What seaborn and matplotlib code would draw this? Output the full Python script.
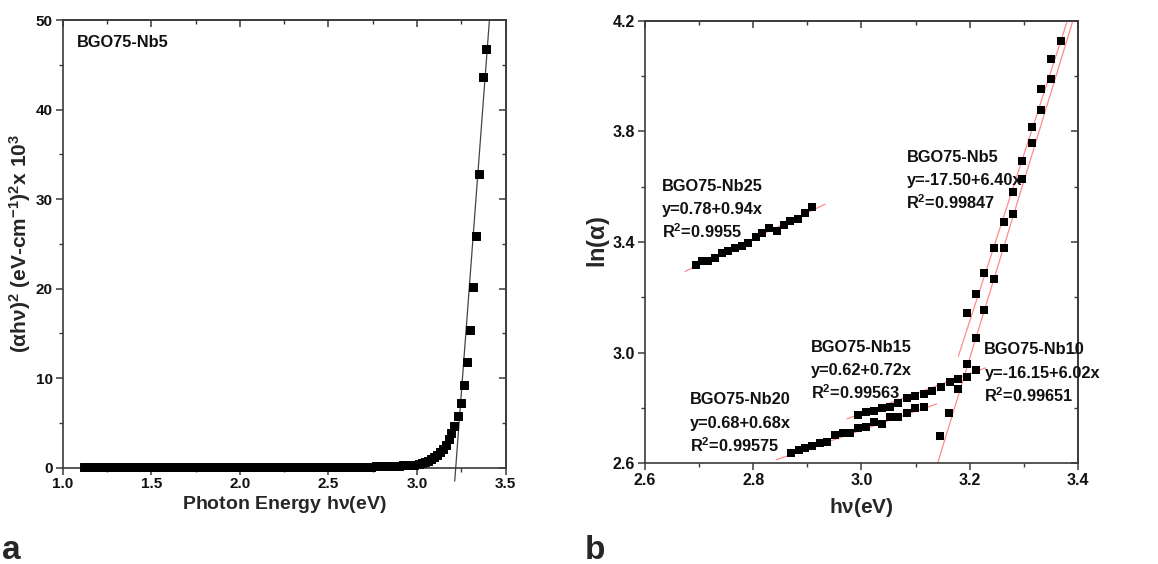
import numpy as np
import pandas as pd
import matplotlib
matplotlib.use("Agg")
import matplotlib.pyplot as plt
from matplotlib.ticker import FixedLocator
import seaborn as sns

# ---------------- panel a: Tauc plot of BGO75-Nb5 ----------------
tauc_energy = [
    1.12, 1.15, 1.18, 1.21, 1.24, 1.27, 1.30, 1.33, 1.36, 1.39, 1.42, 1.45,
    1.48, 1.51, 1.54, 1.57, 1.60, 1.63, 1.66, 1.69, 1.72, 1.75, 1.78, 1.81,
    1.84, 1.87, 1.90, 1.93, 1.96, 1.99, 2.02, 2.05, 2.08, 2.11, 2.14, 2.17,
    2.20, 2.23, 2.26, 2.29, 2.32, 2.35, 2.38, 2.41, 2.44, 2.47, 2.50, 2.53,
    2.56, 2.59, 2.62, 2.65, 2.68, 2.71, 2.74, 2.77, 2.80, 2.83, 2.86, 2.88,
    2.90, 2.92, 2.94, 2.96, 2.98, 3.009, 3.026, 3.043, 3.060, 3.077, 3.094,
    3.111, 3.127, 3.144, 3.161, 3.178, 3.193, 3.210, 3.229, 3.246, 3.263,
    3.280, 3.299, 3.314, 3.333, 3.351, 3.370, 3.389,
]
tauc_value = [
    0.03, 0.03, 0.03, 0.03, 0.03, 0.03, 0.03, 0.03, 0.03, 0.03, 0.03, 0.03,
    0.03, 0.03, 0.03, 0.03, 0.03, 0.03, 0.03, 0.03, 0.03, 0.03, 0.03, 0.03,
    0.03, 0.03, 0.03, 0.03, 0.03, 0.03, 0.03, 0.03, 0.03, 0.04, 0.04, 0.04,
    0.04, 0.04, 0.05, 0.05, 0.05, 0.05, 0.05, 0.06, 0.06, 0.06, 0.06, 0.07,
    0.07, 0.08, 0.08, 0.09, 0.10, 0.11, 0.12, 0.14, 0.15, 0.17, 0.19, 0.21,
    0.22, 0.25, 0.28, 0.31, 0.35, 0.42, 0.50, 0.60, 0.74, 0.93, 1.19,
    1.45, 1.75, 2.12, 2.57, 3.16, 3.83, 4.65, 5.77, 7.26, 9.20,
    11.84, 15.41, 20.22, 25.91, 32.84, 43.67, 46.76,
]
# linear extrapolation of the absorption edge: y = slope * (E - Eg)
tauc_gap = 3.218
tauc_slope = 263.0
tauc_fit_range = [-1.5, 50.0]

# ---------------- panel b: ln(alpha) vs photon energy ----------------
nb25_x = [2.694, 2.705, 2.717, 2.729, 2.742, 2.754, 2.766, 2.779, 2.791,
          2.805, 2.817, 2.829, 2.843, 2.856, 2.868, 2.882, 2.896, 2.909]
nb25_y = [3.317, 3.331, 3.331, 3.343, 3.361, 3.369, 3.377, 3.387, 3.395,
          3.419, 3.431, 3.449, 3.440, 3.461, 3.477, 3.483, 3.504, 3.525]

nb20_x = [2.869, 2.884, 2.896, 2.909, 2.924, 2.937, 2.951, 2.965, 2.979,
          2.994, 3.009, 3.023, 3.038, 3.053, 3.068, 3.084, 3.099, 3.115]
nb20_y = [2.636, 2.648, 2.654, 2.663, 2.672, 2.678, 2.702, 2.708, 2.708,
          2.727, 2.733, 2.751, 2.742, 2.766, 2.769, 2.783, 2.799, 2.802]

nb15_x = [2.994, 3.009, 3.023, 3.038, 3.053, 3.068, 3.084, 3.099, 3.115,
          3.130, 3.147, 3.163, 3.178, 3.195, 3.212]
nb15_y = [2.775, 2.787, 2.790, 2.799, 2.805, 2.819, 2.837, 2.843, 2.851,
          2.863, 2.877, 2.893, 2.904, 2.913, 2.937]

nb10_x = [3.195, 3.212, 3.227, 3.245, 3.263, 3.280, 3.296, 3.315, 3.332, 3.351]
nb10_y = [3.142, 3.212, 3.289, 3.377, 3.471, 3.580, 3.693, 3.814, 3.954, 4.060]

nb5_x = [3.145, 3.162, 3.178, 3.195, 3.212, 3.227, 3.245, 3.263, 3.280,
         3.296, 3.315, 3.332, 3.351, 3.369]
nb5_y = [2.700, 2.781, 2.867, 2.959, 3.054, 3.154, 3.265, 3.380, 3.500,
         3.627, 3.757, 3.877, 3.989, 4.128]

# fitted lines y = a + b x, with the energy span over which each is drawn
fit_names = ["Nb25", "Nb20", "Nb15", "Nb10", "Nb5"]
fit_intercept = [0.78, 0.68, 0.62, -16.15, -17.50]
fit_slope = [0.94, 0.68, 0.72, 6.02, 6.40]
fit_x_start = [2.674, 2.843, 2.973, 3.179, 3.138]
fit_x_end = [2.933, 3.139, 3.229, 3.396, 3.418]

# annotation blocks: (x, y of first baseline, lines)
label_x = [2.631, 2.683, 2.906, 3.227, 3.083]
label_y = [3.586, 2.813, 3.004, 2.994, 3.691]
label_lines = [
    ["BGO75-Nb25", "y=0.78+0.94x", "R$^{2}$=0.9955"],
    ["BGO75-Nb20", "y=0.68+0.68x", "R$^{2}$=0.99575"],
    ["BGO75-Nb15", "y=0.62+0.72x", "R$^{2}$=0.99563"],
    ["BGO75-Nb10", "y=-16.15+6.02x", "R$^{2}$=0.99651"],
    ["BGO75-Nb5", "y=-17.50+6.40x", "R$^{2}$=0.99847"],
]

# tick positions
a_xticks = [1.0, 1.5, 2.0, 2.5, 3.0, 3.5]
a_yticks = [0, 10, 20, 30, 40, 50]
b_xticks = [2.6, 2.8, 3.0, 3.2, 3.4]
b_yticks = [2.6, 3.0, 3.4, 3.8, 4.2]

# ---------------- styling ----------------
sns.set_style("ticks")
plt.rcParams.update({
    "font.family": ["Liberation Sans", "DejaVu Sans"],
    "font.weight": "bold",
    "axes.labelweight": "bold",
    "mathtext.fontset": "custom",
    "mathtext.rm": "Liberation Sans:bold",
    "mathtext.it": "Liberation Sans:bold",
    "mathtext.bf": "Liberation Sans:bold",
    "mathtext.sf": "Liberation Sans:bold",
    "axes.edgecolor": "#3a3a3a",
    "axes.linewidth": 1.2,
    "xtick.color": "#3a3a3a",
    "ytick.color": "#3a3a3a",
    "xtick.labelcolor": "#111111",
    "ytick.labelcolor": "#111111",
})

fig = plt.figure(figsize=(11.58, 5.64), dpi=100)
ax_a = fig.add_axes([0.0541, 0.1707, 0.3826, 0.7938])
ax_b = fig.add_axes([0.5570, 0.1785, 0.3739, 0.7848])


def minor_between(ticks):
    return [(t0 + t1) / 2 for t0, t1 in zip(ticks[:-1], ticks[1:])]


def style_ticks(ax, xt, yt, fs):
    ax.set_xticks(xt)
    ax.set_yticks(yt)
    ax.xaxis.set_minor_locator(FixedLocator(minor_between(xt)))
    ax.yaxis.set_minor_locator(FixedLocator(minor_between(yt)))
    ax.tick_params(which="major", direction="out", length=5, width=1.1,
                   labelsize=fs, pad=2)
    ax.tick_params(which="minor", direction="out", length=3, width=1.0)
    # mirrored inward ticks on top and right
    top = ax.secondary_xaxis("top")
    top.set_xticks(xt)
    top.xaxis.set_minor_locator(FixedLocator(minor_between(xt)))
    top.tick_params(which="major", direction="in", length=5, width=1.1,
                    labeltop=False)
    top.tick_params(which="minor", direction="in", length=3, width=1.0)
    right = ax.secondary_yaxis("right")
    right.set_yticks(yt)
    right.yaxis.set_minor_locator(FixedLocator(minor_between(yt)))
    right.tick_params(which="major", direction="in", length=5, width=1.1,
                      labelright=False)
    right.tick_params(which="minor", direction="in", length=3, width=1.0)
    for s in ax.spines.values():
        s.set_visible(True)


# ---- panel a ----
df_a = pd.DataFrame({"E": tauc_energy, "T": tauc_value})
sns.scatterplot(data=df_a, x="E", y="T", ax=ax_a, marker="s", s=26,
                color="black", edgecolor="black", linewidth=0.7,
                clip_on=False, zorder=3)
fit_y = np.array(tauc_fit_range)
fit_x = tauc_gap + fit_y / tauc_slope
sns.lineplot(x=fit_x, y=fit_y, ax=ax_a, color="#444444", linewidth=0.9,
             clip_on=False, zorder=2)
ax_a.set_xlim(1.0, 3.5)
ax_a.set_ylim(0, 50)
style_ticks(ax_a, a_xticks, a_yticks, 11)
ax_a.set_xticklabels([f"{t:.1f}" for t in a_xticks], fontweight="bold")
ax_a.set_yticklabels([f"{t:d}" for t in a_yticks], fontweight="bold")
ax_a.set_xlabel(r"Photon Energy h$\nu$(eV)", fontsize=14, labelpad=2)
ax_a.set_ylabel(r"($\alpha$h$\nu$)$^{2}$ (eV-cm$^{\mathsf{-1}}$)$^{2}$x 10$^{3}$",
                fontsize=15)
ax_a.yaxis.set_label_coords(-0.068, 0.5)
ax_a.text(1.083, 47.0, "BGO75-Nb5", fontsize=11.8, fontweight="bold",
          va="baseline", ha="left", color="#111111")

# ---- panel b ----
series_b = [(nb25_x, nb25_y), (nb20_x, nb20_y), (nb15_x, nb15_y),
            (nb10_x, nb10_y), (nb5_x, nb5_y)]
frames = []
for name, (xs, ys) in zip(fit_names, series_b):
    frames.append(pd.DataFrame({"E": xs, "lna": ys, "sample": name}))
df_b = pd.concat(frames, ignore_index=True)

for a, b, x0, x1 in zip(fit_intercept, fit_slope, fit_x_start, fit_x_end):
    xs = np.array([x0, x1])
    sns.lineplot(x=xs, y=a + b * xs, ax=ax_b, color="#ff8a8a",
                 linewidth=0.9, zorder=2)
sns.scatterplot(data=df_b, x="E", y="lna", ax=ax_b, marker="s", s=30,
                color="black", linewidth=0, zorder=3, legend=False)
ax_b.set_xlim(2.6, 3.4)
ax_b.set_ylim(2.6, 4.2)
style_ticks(ax_b, b_xticks, b_yticks, 11.5)
ax_b.set_xticklabels([f"{t:.1f}" for t in b_xticks], fontweight="bold")
ax_b.set_yticklabels([f"{t:.1f}" for t in b_yticks], fontweight="bold")
ax_b.set_xlabel(r"h$\nu$(eV)", fontsize=15, labelpad=6)
ax_b.set_ylabel(r"ln($\alpha$)", fontsize=17)
ax_b.yaxis.set_label_coords(-0.077, 0.5)

for x, y, lines in zip(label_x, label_y, label_lines):
    for i, line in enumerate(lines):
        ax_b.annotate(line, xy=(x, y), xytext=(0, -17 * i),
                      textcoords="offset points", fontsize=11.8,
                      fontweight="bold", va="baseline", ha="left",
                      color="#111111", zorder=4)

# panel letters
fig.text(0.002, -0.003, "a", fontsize=24, fontweight="bold", va="bottom")
fig.text(0.505, -0.003, "b", fontsize=24, fontweight="bold", va="bottom")

fig.savefig("out.png", dpi=100)
